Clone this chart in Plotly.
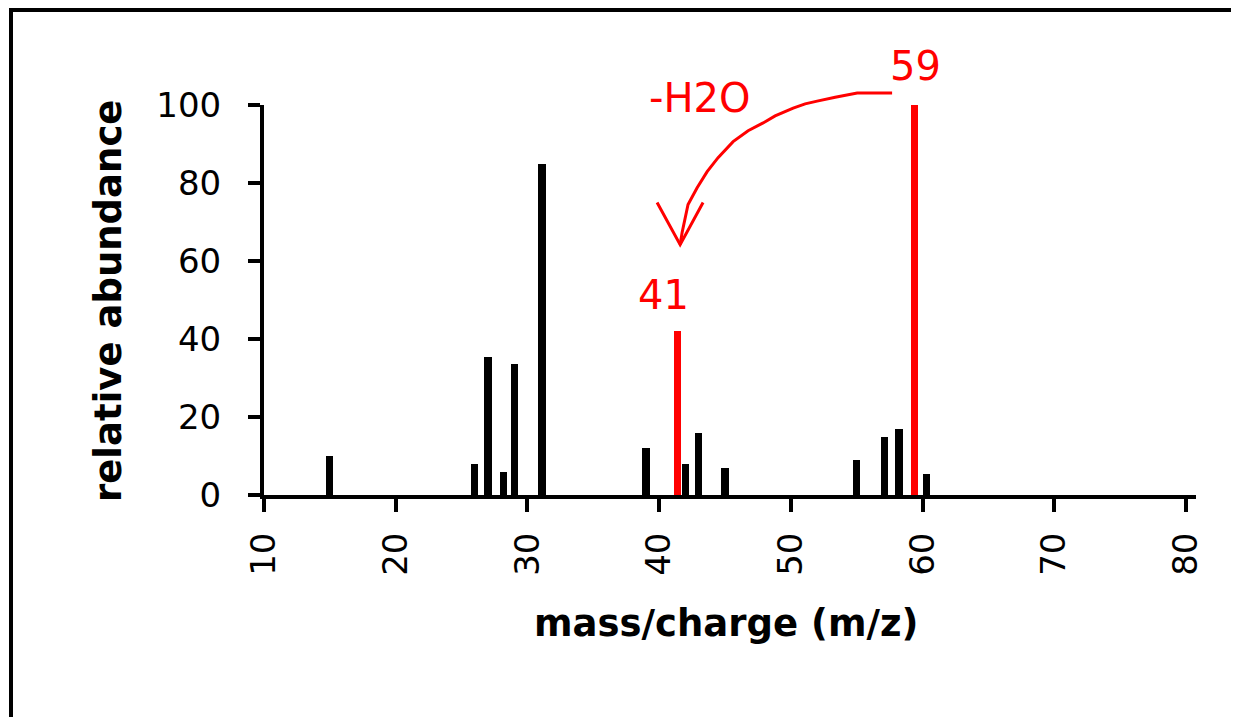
import plotly.graph_objects as go

# ---- data ----
mz_black = [15, 26, 27, 28.2, 29, 31.1, 39, 42, 43, 45, 55, 57.1, 58.2, 60.3]
ab_black = [10, 8, 35.5, 6, 33.5, 85, 12, 8, 16, 7, 9, 15, 17, 5.5]
mz_red = [41.4, 59.4]
ab_red = [42, 100]
x_ticks = [10, 20, 30, 40, 50, 60, 70, 80]
y_ticks = [0, 20, 40, 60, 80, 100]

# annotation arrow (-H2O loss from 59 to 41), in (m/z, abundance) units
arrow_mz = [57.68, 55.03, 53.36, 51.99, 51.08, 50.17, 48.80, 47.89, 46.75,
            45.61, 44.47, 43.64, 42.88, 42.19, 41.74, 41.59]
arrow_ab = [103.1, 103.1, 102.0, 101.0, 100.3, 99.2, 97.2, 95.4, 93.4,
            90.6, 86.5, 82.9, 78.8, 74.5, 67.3, 64.2]
head_mz = [39.84, 41.59, 43.33]
head_ab = [75.0, 64.2, 75.0]

# page has an 8px body margin, so the figure is shifted by OFF
OFF = 8
W, H = 1239 - OFF, 717 - OFF
L, R, T, B = 264 - OFF, 43, 105 - OFF, 222
XMAX = 80.75
YMAX = 100
pw, ph = W - L - R, H - T - B


def px_x(px):
    # px in page coordinates
    return (px - OFF - L) / pw


def px_y(py):
    return (H - B - (py - OFF)) / ph


RED = "#FF0000"
BLACK = "#000000"

fig = go.Figure()
fig.add_trace(go.Bar(x=mz_black, y=ab_black, width=0.55,
                     marker=dict(color=BLACK, line=dict(width=0)),
                     showlegend=False))
fig.add_trace(go.Bar(x=mz_red, y=ab_red, width=0.52,
                     marker=dict(color=RED, line=dict(width=0)),
                     showlegend=False))

shapes = []
path = "M " + " L ".join(f"{m},{a / YMAX}" for m, a in zip(arrow_mz, arrow_ab))
shapes.append(dict(type="path", xref="x", yref="paper", path=path,
                   line=dict(color=RED, width=3)))
hpath = "M " + " L ".join(f"{m},{a / YMAX}" for m, a in zip(head_mz, head_ab))
shapes.append(dict(type="path", xref="x", yref="paper", path=hpath,
                   line=dict(color=RED, width=3)))
# frame lines (top and left)
shapes.append(dict(type="line", xref="paper", yref="paper",
                   x0=px_x(9), x1=px_x(1239), y0=px_y(10), y1=px_y(10),
                   line=dict(color=BLACK, width=4)))
shapes.append(dict(type="line", xref="paper", yref="paper",
                   x0=px_x(11), x1=px_x(11), y0=px_y(8), y1=px_y(717),
                   line=dict(color=BLACK, width=4)))

red_font = dict(family="DejaVu Sans", size=40, color=RED)
annotations = [
    dict(text="59", x=59.43, xref="x", y=110 / YMAX, yref="paper",
         showarrow=False, font=red_font, xanchor="center", yanchor="middle"),
    dict(text="-H2O", x=43.03, xref="x", y=101.9 / YMAX, yref="paper",
         showarrow=False, font=red_font, xanchor="center", yanchor="middle"),
    dict(text="41", x=40.3, xref="x", y=51.3 / YMAX, yref="paper",
         showarrow=False, font=red_font, xanchor="center", yanchor="middle"),
    dict(text="relative abundance", textangle=-90, xref="paper", yref="paper",
         x=px_x(108), y=px_y(301), showarrow=False,
         font=dict(family="DejaVu Sans", size=37, color=BLACK, weight="bold"),
         xanchor="center", yanchor="middle"),
    dict(text="mass/charge (m/z)", xref="paper", yref="paper",
         x=px_x(726), y=px_y(623), showarrow=False,
         font=dict(family="DejaVu Sans", size=37, color=BLACK, weight="bold"),
         xanchor="center", yanchor="middle"),
]

fig.update_layout(
    width=W, height=H,
    margin=dict(l=L, r=R, t=T, b=B, pad=0),
    paper_bgcolor="white", plot_bgcolor="white",
    bargap=0,
    barmode="overlay",
    shapes=shapes,
    annotations=annotations,
    xaxis=dict(range=[10, XMAX], tickvals=x_ticks, ticktext=[str(v) for v in x_ticks],
               tickangle=-90, ticks="outside", ticklen=13, tickwidth=4,
               tickcolor=BLACK, showline=True, linewidth=4, linecolor=BLACK,
               showgrid=False, zeroline=False, ticklabelstandoff=7,
               tickfont=dict(family="DejaVu Sans", size=34, color=BLACK)),
    yaxis=dict(range=[0, YMAX], tickvals=y_ticks, ticktext=[str(v) for v in y_ticks],
               ticks="outside", ticklen=12, tickwidth=4, tickcolor=BLACK,
               showline=True, linewidth=4, linecolor=BLACK,
               showgrid=False, zeroline=False, ticklabelstandoff=20,
               tickfont=dict(family="DejaVu Sans", size=34, color=BLACK)),
)

fig.write_html("out.html")
